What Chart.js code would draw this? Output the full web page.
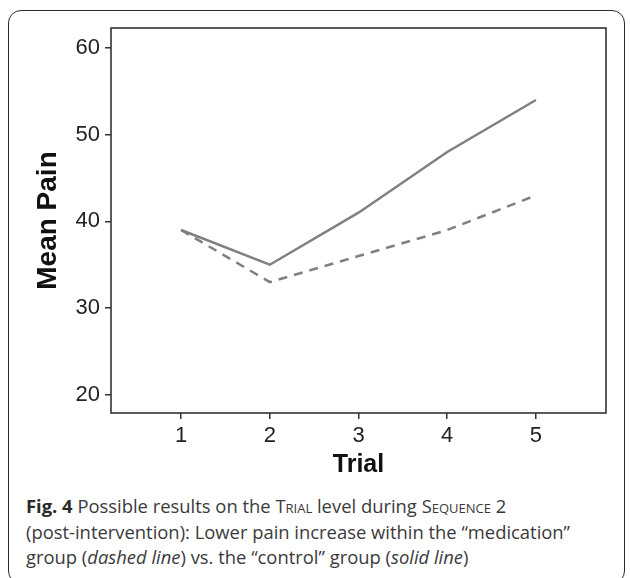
<!DOCTYPE html>
<html>
<head>
<meta charset="utf-8">
<script src="https://cdn.jsdelivr.net/npm/chart.js@4"></script>
<style>
  html, body { margin: 0; padding: 0; background: #fff; }
  body { width: 630px; height: 578px; position: relative; overflow: hidden; }
  #frame { position: absolute; left: 8px; top: 10px; width: 617px; height: 574px;
           border: 1.5px solid #2b2b2b; border-radius: 13px; box-sizing: border-box; }
  #wrap { position: absolute; left: 0; top: 0; width: 630px; height: 480px; }
  #caption { position: absolute; left: 26px; top: 493px; width: 604px;
             font-family: "Open Sans", "Noto Sans", sans-serif; font-size: 18.4px;
             line-height: 25.5px; color: #3a3a3a; white-space: nowrap; }
  #caption b { font-weight: 700; color: #2a2a2a; }
  .sc { font-variant: small-caps; }
</style>
</head>
<body>
<div id="frame"></div>
<div id="wrap"><canvas id="c"></canvas></div>
<div id="caption"><b>Fig. 4</b> Possible results on the <span class="sc">Trial</span> level during <span class="sc">Sequence</span> 2<br>(post-intervention): Lower pain increase within the “medication”<br>group (<i>dashed line</i>) vs. the “control” group (<i>solid line</i>)</div>
<script>
const trials = [1, 2, 3, 4, 5];
const controlPain = [39, 35, 41, 48, 54];      // solid line
const medicationPain = [39, 33, 36, 39, 43];   // dashed line
const yTickValues = [20, 30, 40, 50, 60];
const xTickValues = [1, 2, 3, 4, 5];

const frameBox = {
  id: 'frameBox',
  afterDraw(chart) {
    const a = chart.chartArea, ctx = chart.ctx;
    ctx.save();
    ctx.strokeStyle = '#333';
    ctx.lineWidth = 1.6;
    ctx.strokeRect(a.left, a.top, a.right - a.left, a.bottom - a.top);
    ctx.restore();
  }
};

new Chart(document.getElementById('c'), {
  type: 'line',
  data: {
    datasets: [
      { label: 'control', data: trials.map((t, i) => ({ x: t, y: controlPain[i] })),
        borderColor: '#808080', borderWidth: 2.5, pointRadius: 0, fill: false, tension: 0 },
      { label: 'medication', data: trials.map((t, i) => ({ x: t, y: medicationPain[i] })),
        borderColor: '#808080', borderWidth: 2.5, borderDash: [9, 7], pointRadius: 0, fill: false, tension: 0 }
    ]
  },
  options: {
    responsive: true,
    maintainAspectRatio: false,
    animation: false,
    layout: { padding: { top: 28, right: 24, left: 0, bottom: 0 } },
    plugins: { legend: { display: false }, tooltip: { enabled: false } },
    scales: {
      x: {
        type: 'linear', min: 0.21, max: 5.79,
        afterBuildTicks: s => { s.ticks = xTickValues.map(v => ({ value: v })); },
        afterFit: s => { s.height = 67; },
        grid: { drawOnChartArea: false, drawTicks: true, tickLength: 6, color: '#333', lineWidth: 1.5 },
        border: { display: false },
        ticks: { color: '#222', font: { family: 'Liberation Sans, Arial, sans-serif', size: 22 }, padding: 4 },
        title: { display: true, text: 'Trial', color: '#111',
                 font: { family: 'Liberation Sans, Arial, sans-serif', size: 25, weight: 'bold' },
                 padding: { top: 0, bottom: 0 } }
      },
      y: {
        type: 'linear', min: 17.9, max: 62.3,
        afterBuildTicks: s => { s.ticks = yTickValues.map(v => ({ value: v })); },
        afterFit: s => { s.width = 111; },
        grid: { drawOnChartArea: false, drawTicks: true, tickLength: 6, color: '#333', lineWidth: 1.5 },
        border: { display: false },
        ticks: { color: '#222', font: { family: 'Liberation Sans, Arial, sans-serif', size: 22 }, padding: 5 },
        title: { display: true, text: 'Mean Pain', color: '#111',
                 font: { family: 'Liberation Sans, Arial, sans-serif', size: 28, weight: 'bold' },
                 padding: { top: 31, bottom: 0 } }
      }
    }
  },
  plugins: [frameBox]
});
</script>
</body>
</html>
